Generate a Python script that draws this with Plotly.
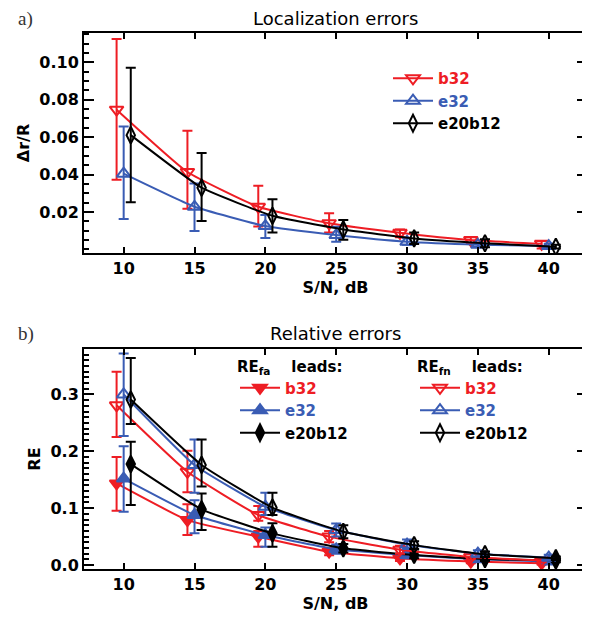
import plotly.graph_objects as go

# ---------------- data ----------------
snr = [10, 15, 20, 25, 30, 35, 40]

# panel a) localization errors dr/R
loc_b32 = [0.0747, 0.0414, 0.0228, 0.0140, 0.0089, 0.0050, 0.0030]
loc_b32_hi = [0.1125, 0.0635, 0.0340, 0.0193, 0.0107, 0.0065, 0.0045]
loc_b32_lo = [0.0373, 0.0218, 0.0123, 0.0090, 0.0065, 0.0030, 0.0005]
loc_e32 = [0.0405, 0.0228, 0.0125, 0.0077, 0.0041, 0.0025, 0.0018]
loc_e32_hi = [0.0657, 0.0352, 0.0184, 0.0121, 0.0060, 0.0035, 0.0030]
loc_e32_lo = [0.0163, 0.0098, 0.0061, 0.0041, 0.0025, 0.0015, 0.0010]
loc_mix = [0.0611, 0.0330, 0.0180, 0.0107, 0.0059, 0.0033, 0.0014]
loc_mix_hi = [0.0971, 0.0516, 0.0268, 0.0157, 0.0090, 0.0055, 0.0025]
loc_mix_lo = [0.0252, 0.0152, 0.0091, 0.0052, 0.0029, 0.0012, 0.0005]

# panel b) relative errors, RE_fn (open symbols)
fn_b32 = [0.281, 0.164, 0.088, 0.050, 0.027, 0.014, 0.008]
fn_b32_hi = [0.340, 0.201, 0.104, 0.060, 0.034, 0.019, 0.011]
fn_b32_lo = [0.225, 0.128, 0.078, 0.040, 0.020, 0.010, 0.005]
fn_e32 = [0.300, 0.176, 0.1025, 0.0615, 0.036, 0.020, 0.013]
fn_e32_hi = [0.372, 0.221, 0.127, 0.073, 0.045, 0.026, 0.018]
fn_e32_lo = [0.227, 0.127, 0.088, 0.050, 0.028, 0.015, 0.009]
fn_mix = [0.291, 0.176, 0.101, 0.0585, 0.035, 0.019, 0.012]
fn_mix_hi = [0.364, 0.221, 0.127, 0.070, 0.042, 0.024, 0.015]
fn_mix_lo = [0.248, 0.138, 0.088, 0.047, 0.028, 0.014, 0.009]

# panel b) relative errors, RE_fa (filled symbols)
fa_b32 = [0.1435, 0.079, 0.0498, 0.0234, 0.0117, 0.006, 0.003]
fa_b32_hi = [0.190, 0.107, 0.060, 0.030, 0.016, 0.009, 0.005]
fa_b32_lo = [0.0954, 0.0527, 0.032, 0.017, 0.007, 0.003, 0.001]
fa_e32 = [0.152, 0.088, 0.0527, 0.0276, 0.0176, 0.010, 0.006]
fa_e32_hi = [0.209, 0.114, 0.066, 0.036, 0.023, 0.014, 0.009]
fa_e32_lo = [0.0937, 0.056, 0.032, 0.020, 0.012, 0.006, 0.003]
fa_mix = [0.1775, 0.098, 0.0557, 0.0293, 0.0176, 0.0105, 0.008]
fa_mix_hi = [0.217, 0.126, 0.0733, 0.037, 0.024, 0.015, 0.011]
fa_mix_lo = [0.1055, 0.0615, 0.032, 0.022, 0.012, 0.007, 0.005]

x_ticks = [10, 15, 20, 25, 30, 35, 40]
ya_ticks = [0.02, 0.04, 0.06, 0.08, 0.10]
yb_ticks = [0.0, 0.1, 0.2, 0.3]

RED = "#ee1d24"
BLUE = "#3a5cb4"
BLACK = "#000000"
FONT = "DejaVu Sans"

fig = go.Figure()


def add(vals, hi, lo, shift, color, symbol, name, xa, ya, legend, showlegend=True):
    xs = [s + shift for s in snr]
    fig.add_trace(go.Scatter(
        x=xs, y=vals, xaxis=xa, yaxis=ya, mode="lines+markers",
        line=dict(color=color, width=2, shape="spline", smoothing=0.4),
        marker=dict(symbol=symbol, size=12, color=color,
                    line=dict(color=color, width=2)),
        error_y=dict(type="data", symmetric=False,
                     array=[h - v for h, v in zip(hi, vals)],
                     arrayminus=[v - l for l, v in zip(lo, vals)],
                     color=color, thickness=2, width=5),
        name=f"<span style='color:{color}'><b>{name}</b></span>",
        legend=legend, showlegend=showlegend,
    ))


# panel a
add(loc_b32, loc_b32_hi, loc_b32_lo, -0.5, RED, "triangle-down-open", "b32", "x", "y", "legend")
add(loc_e32, loc_e32_hi, loc_e32_lo, 0.0, BLUE, "triangle-up-open", "e32", "x", "y", "legend")
add(loc_mix, loc_mix_hi, loc_mix_lo, 0.5, BLACK, "diamond-tall-open", "e20b12", "x", "y", "legend")

# panel b, filled (RE_fa)
add(fa_b32, fa_b32_hi, fa_b32_lo, -0.5, RED, "triangle-down", "b32", "x2", "y2", "legend2")
add(fa_e32, fa_e32_hi, fa_e32_lo, 0.0, BLUE, "triangle-up", "e32", "x2", "y2", "legend2")
add(fa_mix, fa_mix_hi, fa_mix_lo, 0.5, BLACK, "diamond-tall", "e20b12", "x2", "y2", "legend2")
# panel b, open (RE_fn)
add(fn_b32, fn_b32_hi, fn_b32_lo, -0.5, RED, "triangle-down-open", "b32", "x2", "y2", "legend3")
add(fn_e32, fn_e32_hi, fn_e32_lo, 0.0, BLUE, "triangle-up-open", "e32", "x2", "y2", "legend3")
add(fn_mix, fn_mix_hi, fn_mix_lo, 0.5, BLACK, "diamond-tall-open", "e20b12", "x2", "y2", "legend3")

# the page body has an 8px margin: work in page pixels and subtract it
OFF = 8
W, H = 590 - OFF, 624 - OFF


def px(p):
    return (p - OFF) / W


def py(p):
    return 1 - (p - OFF) / H


xdom = [px(84), px(587)]
ya_dom = [py(253), py(33)]
yb_dom = [py(569), py(349)]

tickfont = dict(family=FONT, size=16, color="black", weight="bold")
common_x = dict(range=[7.2, 42.7], tickvals=x_ticks, ticks="inside", ticklen=6,
                tickwidth=2, tickcolor="black", showline=True, linecolor="black",
                linewidth=2, mirror="ticks", showgrid=False, zeroline=False,
                tickfont=tickfont, domain=xdom, automargin=False,
                title=dict(text="S/N, dB", font=tickfont, standoff=3))
fig.update_layout(
    xaxis=dict(common_x, anchor="y"),
    xaxis2=dict(common_x, anchor="y2"),
    yaxis=dict(range=[-0.0019, 0.1157], tickvals=ya_ticks, ticktext=["0.02", "0.04", "0.06", "0.08", "0.10"],
               ticks="inside", ticklen=10, tickwidth=2, tickcolor="black",
               minor=dict(dtick=0.005, tick0=0, ticks="inside", ticklen=5, tickwidth=2, tickcolor="black"),
               showline=True, linecolor="black", linewidth=2, mirror="allticks",
               showgrid=False, zeroline=False, tickfont=tickfont, domain=ya_dom, anchor="x",
               automargin=False,
               title=dict(text="Δr/R", font=tickfont, standoff=6)),
    yaxis2=dict(range=[-0.007, 0.38], tickvals=yb_ticks, ticktext=["0.0", "0.1", "0.2", "0.3"],
                ticks="inside", ticklen=10, tickwidth=2, tickcolor="black",
                minor=dict(dtick=0.01, tick0=0, ticks="inside", ticklen=5, tickwidth=1.5, tickcolor="black"),
                showline=True, linecolor="black", linewidth=2, mirror="allticks",
                showgrid=False, zeroline=False, tickfont=tickfont, domain=yb_dom, anchor="x2",
                automargin=False,
                title=dict(text="RE", font=tickfont, standoff=6)),
)

legfont = dict(family=FONT, size=15, color="black")
headfont = dict(family=FONT, size=15, color="black")
fig.update_layout(
    legend=dict(x=px(388), y=py(62), xanchor="left", yanchor="top", bgcolor="rgba(0,0,0,0)",
                font=legfont, tracegroupgap=0, itemwidth=40),
    legend2=dict(x=px(235), y=py(352), xanchor="left", yanchor="top", bgcolor="rgba(0,0,0,0)",
                 font=legfont, itemwidth=40,
                 title=dict(text="<b>RE<sub>fa</sub>\u00a0\u00a0\u00a0\u00a0leads:</b>", font=headfont)),
    legend3=dict(x=px(415), y=py(352), xanchor="left", yanchor="top", bgcolor="rgba(0,0,0,0)",
                 font=legfont, itemwidth=40,
                 title=dict(text="<b>RE<sub>fn</sub>\u00a0\u00a0\u00a0\u00a0leads:</b>", font=headfont)),
)

titlefont = dict(family=FONT, size=18, color="black")
fig.add_annotation(text="Localization errors", x=(xdom[0] + xdom[1]) / 2, y=py(18),
                   xref="paper", yref="paper", showarrow=False, font=titlefont, yanchor="middle")
fig.add_annotation(text="Relative errors", x=(xdom[0] + xdom[1]) / 2, y=py(333),
                   xref="paper", yref="paper", showarrow=False, font=titlefont, yanchor="middle")
fig.add_annotation(text="a)", x=px(16), y=py(19), xref="paper", yref="paper", xanchor="left",
                   yanchor="middle", showarrow=False,
                   font=dict(family="Liberation Serif", size=19, color="#333"))
fig.add_annotation(text="b)", x=px(16), y=py(334), xref="paper", yref="paper", xanchor="left",
                   yanchor="middle", showarrow=False,
                   font=dict(family="Liberation Serif", size=19, color="#333"))

fig.update_layout(width=W, height=H, margin=dict(l=0, r=0, t=0, b=0),
                  paper_bgcolor="white", plot_bgcolor="white")

fig.write_html("out.html")
